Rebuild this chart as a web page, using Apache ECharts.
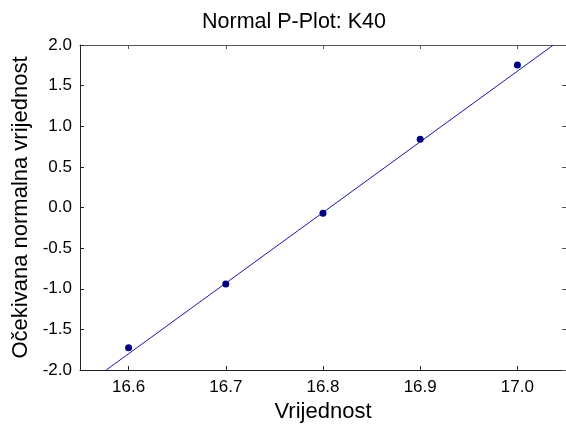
<!DOCTYPE html>
<html><head><meta charset="utf-8">
<script src="https://cdn.jsdelivr.net/npm/echarts@6/dist/echarts.min.js"></script>
<style>html,body{margin:0;padding:0;background:#fff}#c{width:566px;height:432px}</style>
</head><body><div id="c"></div>
<script>
const xValues = [16.6, 16.7, 16.8, 16.9, 17.0];
const yValues = [-1.726, -0.942, -0.071, 0.839, 1.754];
const fitLineX = [16.577, 17.037];
const fitLineY = [-2.0, 2.0];
const xTicks = [16.6, 16.7, 16.8, 16.9, 17.0];
const yTicks = [-2.0, -1.5, -1.0, -0.5, 0.0, 0.5, 1.0, 1.5, 2.0];

const FONT = "'Liberation Sans', Arial, sans-serif";
const chart = echarts.init(document.getElementById('c'), null, {renderer: 'canvas'});
const axisLineStyle = {color: '#222', width: 1};
chart.setOption({
  animation: false,
  backgroundColor: '#fff',
  title: {
    text: 'Normal P-Plot: K40',
    left: 197, top: 6,
    textStyle: {fontFamily: FONT, fontSize: 21.5, fontWeight: 'normal', color: '#000'}
  },
  grid: {left: 80, top: 45, right: -2, bottom: 62},
  xAxis: [{
    type: 'value', min: 16.55, max: 17.05, position: 'bottom',
    name: 'Vrijednost', nameLocation: 'middle', nameGap: 31,
    nameTextStyle: {fontFamily: FONT, fontSize: 22, color: '#000'},
    axisLine: {show: true, onZero: false, lineStyle: axisLineStyle},
    axisTick: {show: true, inside: true, length: 4, customValues: xTicks, lineStyle: {color: '#222'}},
    axisLabel: {customValues: xTicks, fontFamily: FONT, fontSize: 17, color: '#000', margin: 9,
      formatter: v => Number(v).toFixed(1)},
    splitLine: {show: false}
  }, {
    type: 'value', min: 16.55, max: 17.05, position: 'top',
    axisLine: {show: true, onZero: false, lineStyle: {color: '#555', width: 1}},
    axisTick: {show: true, inside: true, length: 4, customValues: xTicks, lineStyle: {color: '#555'}},
    axisLabel: {show: false},
    splitLine: {show: false}
  }],
  yAxis: [{
    type: 'value', min: -2, max: 2, interval: 0.5, position: 'left',
    name: 'Očekivana normalna vrijednost', nameLocation: 'middle', nameGap: 37,
    nameTextStyle: {fontFamily: FONT, fontSize: 22, color: '#000'},
    axisLine: {show: true, onZero: false, lineStyle: axisLineStyle},
    axisTick: {show: true, inside: true, length: 4, lineStyle: {color: '#222'}},
    axisLabel: {fontFamily: FONT, fontSize: 17, color: '#000', margin: 8,
      formatter: v => Number(v).toFixed(1)},
    splitLine: {show: false}
  }, {
    type: 'value', min: -2, max: 2, interval: 0.5, position: 'right',
    axisLine: {show: true, onZero: false, lineStyle: {color: '#555'}},
    axisTick: {show: true, inside: true, length: 4},
    axisLabel: {show: false},
    splitLine: {show: false}
  }],
  series: [{
    type: 'line',
    data: fitLineX.map((x, i) => [x, fitLineY[i]]),
    showSymbol: false, symbol: 'none',
    lineStyle: {color: '#1818a0', width: 1},
    clip: true, silent: true, z: 2
  }, {
    type: 'scatter',
    data: xValues.map((x, i) => [x, yValues[i]]),
    symbol: 'circle', symbolSize: 7,
    itemStyle: {color: '#00007f', opacity: 1},
    z: 3
  }]
});
</script></body></html>
